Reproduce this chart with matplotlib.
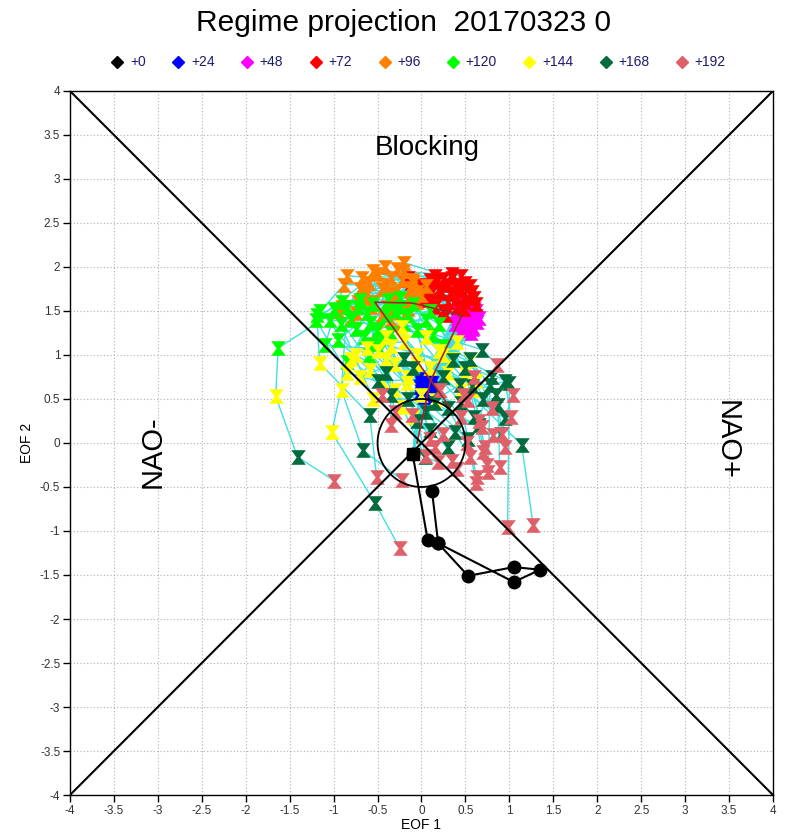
import numpy as np
import matplotlib
matplotlib.use("Agg")
import matplotlib.pyplot as plt
from matplotlib.path import Path
from matplotlib.patches import Circle
from matplotlib.lines import Line2D

plt.rcParams['font.family'] = ['Liberation Sans', 'DejaVu Sans']

# lead-time labels and colours
leads = ['+0', '+24', '+48', '+72', '+96', '+120', '+144', '+168', '+192']
lead_colors = ['black', '#0000ff', '#ff00ff', '#ff0000', '#ff8000',
               '#00ff00', '#ffff00', '#006b3c', '#e0606a']

# ensemble start point (+0)
x0, y0 = -0.10, -0.13

# ensemble members, one value per member for each lead time
x24 = [0.02, 0.05, 0.08, 0.00, 0.10, 0.04, 0.06, -0.02, 0.12, 0.03, 0.07, 0.01, 0.09,
       0.05, 0.04, 0.11, 0.00, 0.06, 0.08, 0.02, 0.10, 0.03, 0.07, 0.05, 0.01, 0.09,
       0.03, 0.08, -0.01, 0.06, 0.11, 0.04, 0.02, 0.09, 0.05, 0.07, 0.00, 0.10, 0.03, 0.06]
y24 = [0.62, 0.58, 0.66, 0.70, 0.60, 0.55, 0.72, 0.64, 0.68, 0.52, 0.61, 0.67, 0.57,
       0.65, 0.71, 0.63, 0.59, 0.69, 0.54, 0.66, 0.62, 0.60, 0.56, 0.73, 0.64, 0.68,
       0.60, 0.64, 0.68, 0.57, 0.66, 0.70, 0.63, 0.59, 0.67, 0.61, 0.65, 0.69, 0.56, 0.62]
x48 = [0.42, 0.50, 0.55, 0.38, 0.60, 0.47, 0.52, 0.40, 0.63, 0.45, 0.58, 0.48, 0.53,
       0.44, 0.57, 0.62, 0.39, 0.51, 0.56, 0.46, 0.65, 0.49, 0.54, 0.43, 0.59, 0.52,
       0.48, 0.55, 0.41, 0.60, 0.50, 0.45, 0.58, 0.53, 0.47, 0.62, 0.44, 0.56, 0.51, 0.49]
y48 = [1.40, 1.45, 1.52, 1.35, 1.48, 1.30, 1.55, 1.42, 1.38, 1.28, 1.50, 1.58, 1.36,
       1.46, 1.33, 1.44, 1.50, 1.60, 1.25, 1.53, 1.42, 1.37, 1.47, 1.55, 1.31, 1.49,
       1.43, 1.36, 1.48, 1.52, 1.58, 1.40, 1.30, 1.46, 1.34, 1.50, 1.56, 1.42, 1.38, 1.47]
x72 = [0.05, 0.20, 0.35, -0.10, 0.50, 0.15, 0.40, -0.18, 0.58, 0.25, 0.45, 0.00, 0.30,
       -0.05, 0.55, 0.60, -0.15, 0.10, 0.48, 0.22, 0.62, 0.35, 0.08, 0.42, 0.28, 0.18,
       0.12, 0.38, -0.08, 0.55, 0.25, 0.02, 0.45, 0.32, -0.12, 0.50, 0.15, 0.40, 0.05, 0.30]
y72 = [1.80, 1.75, 1.88, 1.70, 1.82, 1.55, 1.65, 1.85, 1.72, 1.50, 1.90, 1.78, 1.60,
       1.62, 1.78, 1.65, 1.88, 1.85, 1.52, 1.70, 1.58, 1.92, 1.68, 1.76, 1.45, 1.84,
       1.72, 1.80, 1.78, 1.68, 1.86, 1.62, 1.75, 1.70, 1.82, 1.60, 1.90, 1.55, 1.66, 1.79]
x96 = [-0.90, -0.40, -0.20, -0.70, -0.10, -0.55, -0.30, -0.85, 0.05, -0.45, -0.20, -0.65, -0.35,
       -0.80, -0.15, -0.05, -0.95, -0.50, -0.25, -0.60, 0.00, -0.38, -0.72, -0.28, -0.48, -0.12,
       -0.62, -0.30, -0.88, -0.15, -0.45, -0.75, -0.22, -0.55, -0.05, -0.35, -0.68, -0.10, -0.42, -0.58]
y96 = [1.55, 1.80, 2.05, 1.75, 1.85, 1.60, 1.70, 1.90, 1.78, 1.45, 1.95, 1.65, 1.88,
       1.42, 1.62, 1.72, 1.50, 1.92, 1.35, 1.82, 1.68, 1.55, 1.60, 1.98, 1.30, 1.76,
       1.70, 1.62, 1.80, 1.52, 1.75, 1.48, 1.85, 1.95, 1.60, 1.40, 1.88, 1.82, 2.00, 1.55]
x120 = [-1.63, -1.19, -0.85, -0.85, -0.59, -0.47, -0.95, -1.10, -0.05, 0.13, -1.04, -0.70, -0.30,
        -0.20, -0.55, -0.65, -1.00, -0.40, 0.25, -0.75, -0.10, -0.35, -0.90, 0.05, -0.60, -0.25,
        -0.80, -0.50, -1.15, -0.25, -0.62, -0.92, 0.10, -0.45, -0.15, -0.72, 0.20, -0.38, -1.20, -0.55]
y120 = [1.08, 1.45, 0.92, 1.55, 1.36, 1.06, 1.17, 1.11, 1.28, 1.23, 1.40, 1.62, 1.50,
        1.35, 1.58, 1.20, 1.52, 1.45, 1.10, 1.30, 1.58, 1.25, 1.60, 1.40, 1.00, 1.65,
        1.40, 1.30, 1.50, 1.55, 1.48, 1.35, 1.50, 1.20, 1.45, 1.55, 1.35, 1.62, 1.40, 1.12]
x144 = [-1.66, -1.16, -1.02, -0.91, -0.22, -0.17, -0.59, -0.62, 0.15, 0.55, -0.22, -0.40, 0.30,
        0.40, -0.05, -0.80, -0.45, 0.10, 0.62, -0.30, 0.20, -0.70, -0.35, 0.45, -0.10, 0.05,
        -0.50, -0.15, -0.75, 0.25, -0.30, -0.55, 0.50, 0.00, 0.35, -0.40, 0.60, -0.05, -0.85, -0.20]
y144 = [0.53, 0.91, 0.12, 0.60, 0.41, 0.68, 0.83, 1.08, 0.49, 0.94, 1.32, 0.95, 0.80,
        1.15, 1.00, 0.95, 0.70, 0.85, 0.70, 0.60, 1.05, 0.75, 1.10, 0.60, 0.30, 1.20,
        1.05, 0.75, 1.00, 1.00, 0.90, 0.50, 0.80, 0.55, 0.95, 1.20, 0.60, 0.90, 0.80, 1.15]
x168 = [-1.41, -0.59, -0.53, -0.67, 0.04, 0.10, 0.38, 0.53, 0.44, 0.78, 1.00, 0.87, 1.14,
        0.69, 0.36, -0.35, 0.25, 0.60, -0.10, 0.90, 0.15, -0.20, 0.50, 0.95, 0.30, 0.70,
        0.20, 0.55, -0.40, 0.80, 0.05, -0.15, 0.65, 0.45, 0.85, -0.05, 0.95, 0.30, -0.50, 0.58]
y168 = [-0.16, 0.32, -0.68, -0.08, -0.16, 0.15, 0.12, 0.04, 0.66, 0.66, 0.68, 0.43, -0.02,
        1.06, 0.94, 0.55, 0.75, 0.30, 0.85, 0.10, 0.45, 0.95, 0.85, 0.28, -0.05, 0.50,
        0.60, 0.95, 0.80, 0.75, 0.35, 0.50, 0.20, 0.45, 0.55, 0.25, 0.70, 0.40, 0.70, 0.65]
x192 = [-0.99, -0.51, -0.25, -0.22, 0.19, -0.11, 0.55, 0.63, 0.47, 0.76, 0.98, 0.89, 1.27,
        0.86, 0.21, -0.35, 0.53, 0.70, 0.10, 0.95, 0.81, 0.40, 0.69, 1.04, 0.35, 0.60,
        0.45, 0.80, -0.30, 0.65, 0.25, 0.15, 0.75, 0.62, 0.92, 0.05, 1.02, 0.52, -0.45, 0.72]
y192 = [-0.43, -0.39, -1.19, -0.42, -0.22, 0.32, -0.16, -0.39, 0.55, -0.33, -0.95, -0.27, -0.93,
        0.89, 0.60, 0.20, 0.49, -0.10, 0.05, -0.05, 0.09, -0.30, 0.18, 0.55, -0.20, 0.75,
        0.30, 0.40, 0.35, 0.25, 0.10, -0.05, -0.25, -0.45, 0.10, -0.15, 0.30, 0.00, 0.55, -0.05]

# ensemble mean track
mean_x = [-0.05, 0.10, 0.46, -0.10, -0.53, -0.10, 0.32]
mean_y = [0.00, 0.70, 1.45, 1.59, 1.60, 1.00, 0.41]

# analysis track (black)
ana_x = [0.12, 0.19, 1.05, 1.35, 1.05, 0.53, 0.19, 0.07, -0.10]
ana_y = [-0.55, -1.14, -1.58, -1.44, -1.41, -1.51, -1.14, -1.10, -0.13]

xs = [x24, x48, x72, x96, x120, x144, x168, x192]
ys = [y24, y48, y72, y96, y120, y144, y168, y192]

hourglass = Path([(-1, 1), (1, 1), (0.25, 0), (1, -1), (-1, -1), (-0.25, 0), (-1, 1)],
                 [Path.MOVETO] + [Path.LINETO] * 5 + [Path.CLOSEPOLY])

fig = plt.figure(figsize=(7.89, 8.33), dpi=100)
ax = fig.add_axes([0.0887, 0.0456, 0.891, 0.8452])

# member tracks
n = len(x24)
for i in range(n):
    mx = [x0] + [a[i] for a in xs]
    my = [y0] + [a[i] for a in ys]
    ax.plot(mx, my, color='#40e0e0', lw=1.0, zorder=2)

for k in range(len(xs)):
    ax.plot(xs[k], ys[k], ls='none', marker=hourglass, ms=10.5, mew=0,
            color=lead_colors[k + 1], zorder=3)

ax.plot(mean_x, mean_y, color='#a02828', lw=1.2, zorder=4)

ax.plot([-4, 4], [-4, 4], color='black', lw=1.5, zorder=5)
ax.plot([-4, 4], [4, -4], color='black', lw=1.5, zorder=5)
ax.add_patch(Circle((0, 0), 0.5, fill=False, ec='black', lw=1.3, zorder=5))

ax.plot(ana_x, ana_y, color='black', lw=1.5, marker='o', ms=9, zorder=6)
ax.plot([x0], [y0], ls='none', marker='s', ms=9, color='black', zorder=7)

ax.set_xlim(-4, 4)
ax.set_ylim(-4, 4)
ticks = np.arange(-4, 4.01, 0.5)
labels = ['%g' % t for t in ticks]
ax.set_xticks(ticks)
ax.set_xticklabels(labels)
ax.set_yticks(ticks)
ax.set_yticklabels(labels)
ax.tick_params(direction='out', length=5, width=1, labelsize=8.5, labelcolor='#333333', pad=2)
ax.grid(True, color='#b0b0b0', lw=0.8, ls=(0, (1, 2)))
ax.set_axisbelow(True)
for s in ax.spines.values():
    s.set_linewidth(1.0)

ax.set_xlabel('EOF 1', fontsize=10, labelpad=1)
ax.set_ylabel('EOF 2', fontsize=10, labelpad=4)

ax.text(0.06, 3.35, 'Blocking', fontsize=20, ha='center', va='center')
ax.text(-3.06, -0.1, 'NAO-', fontsize=21, rotation=90, ha='center', va='center')
ax.text(3.47, 0.03, 'NAO+', fontsize=21, rotation=-90, ha='center', va='center')

fig.text(0.511, 0.972, 'Regime projection  20170323 0', fontsize=21.5, ha='center', va='center')

handles = [Line2D([], [], ls='none', marker='D', ms=6, color=c) for c in lead_colors]
fig.legend(handles, leads, loc='center', bbox_to_anchor=(0.529, 0.925), ncol=9,
           frameon=False, fontsize=10, labelcolor='#1c1c6b', handletextpad=0.3,
           columnspacing=1.75, handlelength=1.2)

fig.savefig('out.png', dpi=100)
